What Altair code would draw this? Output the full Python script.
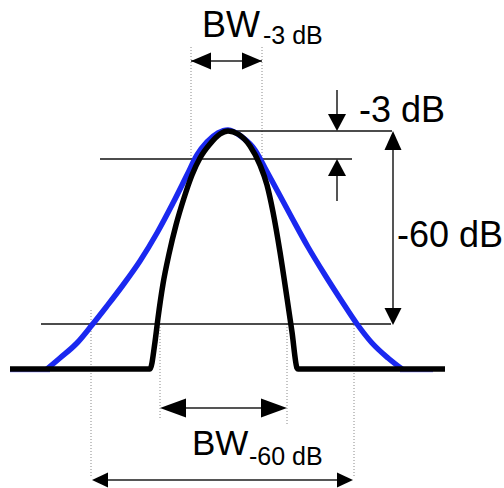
import altair as alt
import pandas as pd

W, H = 504, 488

# Wide response (blue): x / y in drawing units, y grows downward
blue_x = [47, 60, 77, 92, 107, 123, 140, 157, 173, 187, 197, 207, 218, 228,
          242, 255, 265, 278, 292, 308, 325, 341, 357, 372, 388, 402]
blue_y = [369, 358, 343, 325, 306, 285, 261, 233, 203, 175, 155, 142, 133, 130,
          137, 150, 168, 192, 218, 247, 275, 300, 324, 343, 358, 369]

# Narrow response (black) with its flat floor on both sides
black_x = [10, 150, 155, 158, 163, 169, 176, 184, 192, 200, 210, 220, 228,
           238, 250, 260, 267, 273, 280, 287, 292, 297, 298, 445]
black_y = [369, 369, 342, 318, 284, 254, 225, 198, 175, 158, 144, 134, 131,
           134, 146, 165, 185, 212, 252, 298, 332, 368, 369, 369]

# Level markers: peak, -3 dB and -60 dB
level_x1 = [235, 100, 41]
level_x2 = [392, 352, 391]
level_y = [131, 159, 324]

# Dotted bandwidth guides
guide_x = [191, 262, 160, 287, 91, 354]
guide_y1 = [47, 47, 324, 324, 310, 322]
guide_y2 = [159, 159, 418, 425, 476, 476]

# Arrow shafts (x1, y1, x2, y2)
shaft_x1 = [191, 337, 337, 393, 170, 100]
shaft_y1 = [61, 90, 172, 140, 408, 480]
shaft_x2 = [262, 337, 337, 393, 277, 345]
shaft_y2 = [61, 120, 201, 316, 408, 480]

# Arrow heads: tip position, direction, length, width
head_x = [191, 262, 337, 337, 393, 393, 160, 287, 92, 353]
head_y = [61, 61, 131, 159, 131, 325, 408, 408, 480, 480]
head_dir = ["left", "right", "down", "up", "up", "down", "left", "right", "left", "right"]
head_len = [20, 20, 17, 17, 19, 17, 26, 26, 16, 16]
head_wid = [17, 17, 18, 18, 17, 17, 19, 19, 15, 15]

# Labels
label_text = ["BW", "-3 dB", "-3 dB", "-60 dB", "BW", "-60 dB"]
label_x = [202, 263, 359, 397, 192, 249]
label_y = [37, 44, 122, 247, 455, 465]
label_size = [36, 25, 36, 36, 35, 25]

xs = alt.Scale(domain=[0, W], nice=False, zero=False)
ys = alt.Scale(domain=[0, H], nice=False, zero=False, reverse=True)


def X(f, **kw):
    return alt.X(f, type="quantitative", scale=xs, axis=None, **kw)


def Y(f, **kw):
    return alt.Y(f, type="quantitative", scale=ys, axis=None, **kw)


blue_df = pd.DataFrame({"x": blue_x, "y": blue_y, "i": range(len(blue_x))})
black_df = pd.DataFrame({"x": black_x, "y": black_y, "i": range(len(black_x))})

blue_floor = alt.Chart(pd.DataFrame({"x": [10, 400], "x2": [50, 433], "y": [371.5, 371.5]})).mark_rule(
    color="#7b7bff", strokeWidth=1.5
).encode(x=X("x"), x2="x2", y=Y("y"))

blue = alt.Chart(blue_df).mark_line(
    color="#1a28f0", strokeWidth=5.5, interpolate="monotone", strokeCap="butt"
).encode(x=X("x"), y=Y("y"), order="i:Q")

black = alt.Chart(black_df).mark_line(
    color="#000000", strokeWidth=5.5, interpolate="monotone", strokeCap="butt", strokeJoin="round"
).encode(x=X("x"), y=Y("y"), order="i:Q")

levels = alt.Chart(pd.DataFrame({"x": level_x1, "x2": level_x2, "y": level_y})).mark_rule(
    color="#111111", strokeWidth=1.5
).encode(x=X("x"), x2="x2", y=Y("y"))

guides = alt.Chart(pd.DataFrame({"x": guide_x, "y": guide_y1, "y2": guide_y2})).mark_rule(
    color="#8a8a8a", strokeWidth=1, strokeDash=[1, 2]
).encode(x=X("x"), y=Y("y"), y2="y2")

shafts = alt.Chart(pd.DataFrame({"x": shaft_x1, "y": shaft_y1, "x2": shaft_x2, "y2": shaft_y2})).mark_rule(
    color="#555555", strokeWidth=2
).encode(x=X("x"), y=Y("y"), x2="x2", y2="y2")


def head_path(d, L, Wd):
    h = Wd / L
    if d == "right":
        return f"M 1 0 L -1 {-h} L -1 {h} Z"
    if d == "left":
        return f"M -1 0 L 1 {-h} L 1 {h} Z"
    if d == "down":
        return f"M 0 1 L {-h} -1 L {h} -1 Z"
    return f"M 0 -1 L {-h} 1 L {h} 1 Z"


step = {"right": (-1, 0), "left": (1, 0), "down": (0, -1), "up": (0, 1)}
heads_df = pd.DataFrame({
    "x": [hx + step[d][0] * L / 2 for hx, d, L in zip(head_x, head_dir, head_len)],
    "y": [hy + step[d][1] * L / 2 for hy, d, L in zip(head_y, head_dir, head_len)],
    "shape": [head_path(d, L, w) for d, L, w in zip(head_dir, head_len, head_wid)],
    "size": [L * L for L in head_len],
})
heads = alt.Chart(heads_df).mark_point(
    filled=True, color="#000000", opacity=1, strokeWidth=0
).encode(
    x=X("x"), y=Y("y"),
    shape=alt.Shape("shape:N", scale=None),
    size=alt.Size("size:Q", scale=None),
)

labels = alt.Chart(pd.DataFrame({
    "t": label_text, "x": label_x, "y": label_y, "s": label_size
})).mark_text(
    align="left", baseline="alphabetic", font="Liberation Sans", color="#000000"
).encode(
    x=X("x"), y=Y("y"), text="t:N", size=alt.Size("s:Q", scale=None)
)

chart = alt.layer(
    guides, levels, blue_floor, blue, black, shafts, heads, labels
).properties(
    width=W, height=H, autosize=alt.AutoSizeParams(type="none"), padding=0, background="white"
).configure_view(stroke=None)

chart.save("out.html", embed_options={"renderer": "svg", "actions": False})
